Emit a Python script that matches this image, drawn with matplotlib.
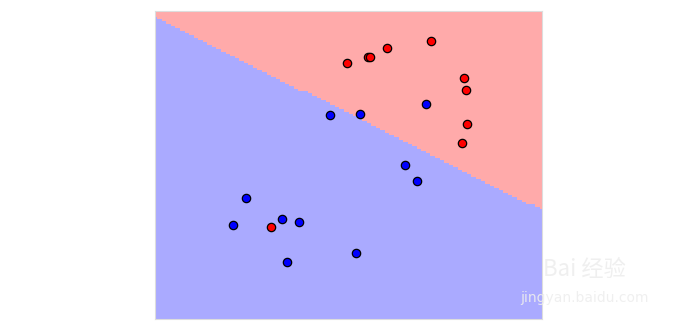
import numpy as np
import matplotlib.pyplot as plt
from matplotlib.colors import ListedColormap

# sample points, class 1 = red, class 0 = blue
red_x = [4.97, 5.50, 5.55, 5.99, 7.12, 7.99, 8.04, 8.05, 7.92, 3.01]
red_y = [6.64, 6.81, 6.81, 7.03, 7.21, 6.27, 5.96, 5.07, 4.57, 2.39]
blue_x = [7.00, 4.52, 5.30, 6.46, 6.76, 2.35, 2.02, 3.29, 3.73, 5.19, 3.41]
blue_y = [5.59, 5.29, 5.32, 3.99, 3.58, 3.13, 2.45, 2.61, 2.52, 1.72, 1.48]

# linear decision boundary (end points at left / right edge)
bound_x = [0.0, 10.0]
bound_y = [7.84, 2.83]

x_min, x_max = 0.0, 10.0
y_min, y_max = 0.0, 8.0

cmap_light = ListedColormap(['#AAAAFF', '#FFAAAA'])

# coarse mesh -> stair-stepped boundary like the original
xx, yy = np.meshgrid(np.linspace(x_min, x_max, 86),
                     np.linspace(y_min, y_max, 134))
slope = (bound_y[1] - bound_y[0]) / (bound_x[1] - bound_x[0])
Z = (yy > bound_y[0] + slope * (xx - bound_x[0])).astype(int)

fig = plt.figure(figsize=(7, 3.3), dpi=100)
ax = fig.add_axes([155 / 700, 11 / 330, 387 / 700, 308 / 330])
ax.pcolormesh(xx, yy, Z, cmap=cmap_light, shading='nearest')

ax.scatter(red_x, red_y, c='#FF0000', edgecolors='k', s=36, linewidths=0.9, zorder=3)
ax.scatter(blue_x, blue_y, c='#0000FF', edgecolors='k', s=36, linewidths=0.9, zorder=3)

ax.set_xlim(x_min, x_max)
ax.set_ylim(y_min, y_max)
ax.set_xticks([])
ax.set_yticks([])
for sp in ax.spines.values():
    sp.set_color('#dddddd')

# watermark
fig.text(0.835, 0.165, 'Bai 经验', fontsize=16, color='#eeeeee', alpha=0.9,
         ha='center', family=['Noto Sans CJK SC', 'DejaVu Sans'])
fig.text(0.835, 0.085, 'jingyan.baidu.com', fontsize=10, color='#eeeeee', alpha=0.9,
         ha='center')

fig.savefig('out.png', dpi=100)
